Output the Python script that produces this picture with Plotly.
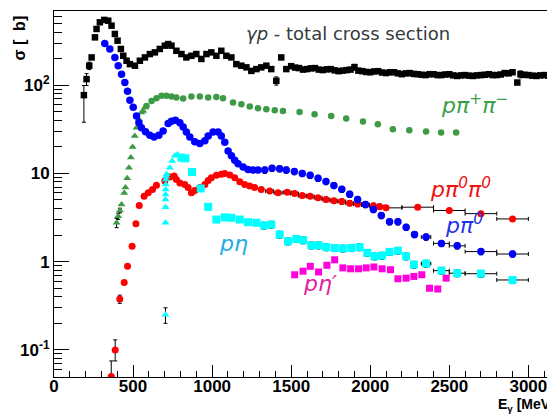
import plotly.graph_objects as go

# ---------------- data (E in MeV, sigma in microbarn) ----------------
tot_E = [189, 206, 223, 238, 259, 269, 290, 318, 343, 364, 385, 402, 423, 438, 459, 480,
         512, 543, 575, 606, 638, 669, 701, 722, 743, 774, 806, 837, 869, 900, 932, 964,
         995, 1027, 1058, 1090, 1122, 1153, 1185, 1217, 1248, 1280, 1311, 1343, 1374, 1406,
         1437, 1469, 1500, 1525, 1550, 1575, 1600, 1625, 1650, 1675, 1700, 1725, 1750, 1775,
         1800, 1825, 1850, 1875, 1900, 1925, 1950, 1975, 2000, 2025, 2050, 2075, 2100, 2125,
         2150, 2175, 2200, 2225, 2250, 2275, 2300, 2325, 2350, 2375, 2400, 2425, 2450, 2475,
         2500, 2525, 2550, 2575, 2600, 2625, 2650, 2675, 2700, 2725, 2750, 2775, 2800, 2825,
         2850, 2875, 2900, 2930, 2950, 2975, 3000, 3025, 3050, 3075, 3100, 3125, 3150, 3175, 3195]
tot_S = [77, 117, 166, 206, 348, 433, 515, 548, 537, 472, 380, 319, 257, 215, 189, 173,
         166, 189, 206, 225, 235, 257, 280, 292, 280, 245, 225, 206, 215, 225, 198, 225,
         235, 215, 245, 215, 206, 173, 166, 159, 145, 152, 159, 166, 152, 112,
         206, 152, 164, 158, 156, 150, 152, 155, 156, 150, 148, 151, 152, 147,
         144, 146, 148, 150, 160, 146, 144, 141, 140, 143, 144, 139, 137, 140,
         140, 136, 133, 136, 137, 134, 133, 131, 130, 133, 133, 130, 130, 132,
         133, 129, 127, 129, 130, 128, 127, 129, 130, 131, 133, 130, 130, 132,
         137, 136, 140, 107, 133, 131, 130, 128, 127, 129, 130, 128, 127, 127, 127]
tot_err_up = [22, 18, 16, 10] + [0] * 41 + [12] + [0] * 18 + [12] + [0] * 41 + [12] + [0] * 13
tot_err_dn = [39, 18, 16, 10] + [0] * 41 + [12] + [0] * 18 + [12] + [0] * 41 + [12] + [0] * 13

pi0_E = [321, 353, 385, 406, 427, 448, 465, 480, 501, 522, 537, 553, 579, 606, 633, 663,
         690, 722, 743, 768, 796, 817, 837, 859, 890, 922, 954, 975, 1006, 1038, 1058, 1080,
         1101, 1122, 1143, 1164, 1196, 1227, 1259, 1290, 1333, 1379, 1427, 1469, 1520, 1570,
         1620, 1670, 1720, 1770, 1820, 1870, 1920, 1970, 2020, 2070, 2122, 2175, 2227, 2280,
         2353, 2450, 2550, 2700, 2900]
pi0_S = [297, 257, 206, 166, 133, 107, 85, 67.5, 56, 44.8, 37.6, 33, 29.6, 27, 25.9, 27,
         30.3, 36.7, 39, 40, 37.6, 33.6, 29.5, 25.9, 22.9, 21.8, 23.5, 26.5, 29.5, 29.5, 26.5, 22.5,
         17.9, 15.8, 14.1, 12.9, 11.8, 11.1, 10.9, 10.9, 10.9, 11.4, 11.3, 10.9, 10.5, 10.0,
         9.5, 8.8, 8.1, 7.3, 6.6, 5.8, 5.07, 4.45, 3.9, 3.33, 2.83, 2.83, 2.45, 2.03,
         1.9, 1.61, 1.51, 1.30, 1.22]
pi0_xerr = [0] * 56 + [15, 15, 15, 15, 30, 50, 50, 100, 100]
pi0_yrel = [0] * 40 + [0.08] * 25

pipi_E = [396, 406, 417, 427, 444, 452, 463, 474, 486, 497, 511, 522, 537, 553, 564, 575,
          585, 617, 648, 680, 711, 743, 774, 817, 869, 922, 975, 1027, 1069, 1132, 1185,
          1238, 1290, 1343, 1396, 1448, 1553, 1648, 1753, 1848, 1954, 2048, 2143, 2247,
          2353, 2448, 2543]
pipi_S = [2.76, 3.27, 3.8, 4.45, 6.0, 6.9, 8.8, 11.6, 15.1, 19.9, 26.5, 33, 41, 49, 51, 55.7,
          58, 66, 71, 75.6, 75.6, 74.4, 72.5, 70.6, 74.4, 74.4, 72.5, 73.6, 71, 63.6, 60.9,
          57.3, 54.8, 53.4, 52, 51, 49.7, 46.8, 44.8, 41.9, 38.7, 36.1, 31.6, 30.9,
          29.8, 29.0, 29.0]
pipi_yrel = [0.12, 0.08, 0.06] + [0] * 44
PIPI_TRIANGLE_MAX_E = 580

pi00_E = [362, 387, 416, 444, 465, 494, 518, 539, 570, 596, 623, 648, 701, 733, 760, 774,
          796, 827, 848, 869, 890, 922, 954, 975, 995, 1027, 1058, 1080, 1112, 1143, 1175,
          1206, 1238, 1269, 1311, 1364, 1417, 1475, 1522, 1570, 1620, 1670, 1720, 1770,
          1820, 1870, 1920, 1970, 2020, 2060, 2100, 2300, 2500, 2700, 2900]
pi00_S = [0.05, 0.10, 0.377, 0.58, 0.885, 1.49, 2.69, 4.33, 5.52, 6.03, 6.58, 7.36, 8.18, 9.08,
          9.33, 8.5, 7.8, 7.5, 6.9, 6.03, 6.4, 6.9, 7.5, 8.3, 8.9, 9.5, 9.8, 10.0, 9.6, 8.9,
          8.05, 7.5, 7.2, 6.9, 6.58, 6.3, 6.03, 6.1, 5.9, 5.6, 5.5, 5.3, 5.07, 4.9,
          4.8, 4.6, 4.5, 4.4, 4.3, 4.2, 4.07, 4.14, 3.8, 3.5, 3.05]
pi00_err_up = [0.025, 0.03, 0.04] + [0] * 21 + [0.3] * 26 + [0.15] * 5
pi00_err_dn = [0.0, 0.025, 0.04] + [0] * 21 + [0.3] * 26 + [0.15] * 5
pi00_xerr = [0] * 35 + [25] * 15 + [100] * 5

eta_E = [705, 705, 705, 705, 706, 706, 707, 708, 709, 712, 733, 747, 764, 781, 806, 831,
         873, 928, 975, 1027, 1080, 1122, 1175, 1227, 1280, 1328, 1374, 1427, 1480, 1532,
         1575, 1627, 1673, 1722, 1775, 1827, 1880, 1932, 1981, 2027, 2074, 2122, 2175,
         2227, 2276, 2353, 2450, 2550, 2700, 2900]
eta_S = [0.25, 2.76, 4.14, 5.07, 5.76, 6.58, 7.5, 8.5, 9.2, 9.8, 11.6, 13.8, 15.8, 16.4, 15.1, 14.8,
         10.35, 6.75, 4.17, 3.0, 3.18, 3.14, 3.0, 2.8, 2.76, 2.57, 2.63, 2.03, 1.70, 1.81,
         1.75, 1.53, 1.53, 1.46, 1.43, 1.41, 1.43, 1.46, 1.26, 1.15, 1.17, 1.29, 1.33,
         1.15, 0.925, 0.95, 0.79, 0.74, 0.73, 0.62]
eta_xerr = [0] * 15 + [12, 12, 12, 12] + [0] * 26 + [30, 50, 50, 100, 100]
eta_yrel = [0.2] + [0] * 24 + [0.09] * 25
ETA_TRIANGLE_MAX_E = 790

etap_E = [1522, 1575, 1621, 1673, 1726, 1775, 1827, 1876, 1926, 1974, 2023, 2075, 2128,
          2175, 2227, 2276, 2326, 2375, 2427, 2480]
etap_S = [0.71, 0.78, 0.885, 0.764, 0.91, 1.05, 0.85, 0.83, 0.83, 0.85, 0.87, 0.83, 0.81,
          0.64, 0.65, 0.68, 0.71, 0.50, 0.49, 0.65]
etap_yrel = [0.04] * 20

x_ticks = [0, 500, 1000, 1500, 2000, 2500, 3000]
y_ticks = [0.1, 1, 10, 100]
y_tick_text = ["10<sup>-1</sup>", "1", "10", "10<sup>2</sup>"]

# ---------------- figure ----------------
W, H = 555, 415
L, R, T, B = 46, 3, 3, 46
PW, PH = W - L - R, H - T - B


def px(x):
    return (x - L) / PW


def py(y):
    return (H - B - y) / PH


def errbar(vals, minus=None, width=2):
    d = dict(type="data", array=vals, color="black", thickness=1, width=width, visible=True)
    if minus is not None:
        d["symmetric"] = False
        d["arrayminus"] = minus
    return d


fig = go.Figure()

fig.add_trace(go.Scatter(
    x=tot_E, y=tot_S, mode="markers",
    marker=dict(symbol="square", size=6.5, color="black"),
    error_y=errbar(tot_err_up, minus=tot_err_dn)))

pipi_tri = [i for i, e in enumerate(pipi_E) if e <= PIPI_TRIANGLE_MAX_E]
pipi_cir = [i for i, e in enumerate(pipi_E) if e > PIPI_TRIANGLE_MAX_E]
green = "#3d9a45"
fig.add_trace(go.Scatter(
    x=[pipi_E[i] for i in pipi_tri], y=[pipi_S[i] for i in pipi_tri], mode="markers",
    marker=dict(symbol="triangle-up", size=7, color=green),
    error_y=errbar([pipi_S[i] * pipi_yrel[i] for i in pipi_tri])))
fig.add_trace(go.Scatter(
    x=[pipi_E[i] for i in pipi_cir], y=[pipi_S[i] for i in pipi_cir], mode="markers",
    marker=dict(symbol="circle", size=6.5, color=green)))

fig.add_trace(go.Scatter(
    x=pi00_E, y=pi00_S, mode="markers",
    marker=dict(symbol="circle", size=7, color="#ff0000"),
    error_x=errbar(pi00_xerr),
    error_y=errbar(pi00_err_up, minus=pi00_err_dn)))

fig.add_trace(go.Scatter(
    x=pi0_E, y=pi0_S, mode="markers",
    marker=dict(symbol="circle", size=7.5, color="#0000ff"),
    error_x=errbar(pi0_xerr),
    error_y=errbar([s * r for s, r in zip(pi0_S, pi0_yrel)])))

eta_tri = [i for i, e in enumerate(eta_E) if e <= ETA_TRIANGLE_MAX_E]
eta_sq = [i for i, e in enumerate(eta_E) if e > ETA_TRIANGLE_MAX_E]
cyan = "#00ffff"
fig.add_trace(go.Scatter(
    x=[eta_E[i] for i in eta_tri], y=[eta_S[i] for i in eta_tri], mode="markers",
    marker=dict(symbol="triangle-up", size=7, color=cyan),
    error_y=errbar([eta_S[i] * eta_yrel[i] for i in eta_tri])))
fig.add_trace(go.Scatter(
    x=[eta_E[i] for i in eta_sq], y=[eta_S[i] for i in eta_sq], mode="markers",
    marker=dict(symbol="square", size=8, color=cyan),
    error_x=errbar([eta_xerr[i] for i in eta_sq]),
    error_y=errbar([eta_S[i] * eta_yrel[i] for i in eta_sq])))

fig.add_trace(go.Scatter(
    x=etap_E, y=etap_S, mode="markers",
    marker=dict(symbol="square", size=7, color="#ff00dd"),
    error_y=errbar([s * r for s, r in zip(etap_S, etap_yrel)])))

tickfont = dict(family="Liberation Sans, Arial, sans-serif", size=17, color="black", weight="bold")
minor_y = [v * m for v in (0.01, 0.1, 1, 10, 100) for m in range(2, 10)]

fig.update_xaxes(range=[0, 3200], tickvals=x_ticks, ticks="inside", ticklen=12, tickwidth=1,
                 tickcolor="black", showline=True, linecolor="black", linewidth=1, mirror=True,
                 showgrid=False, zeroline=False, tickfont=tickfont, ticklabelstandoff=-6,
                 minor=dict(ticks="inside", ticklen=6, dtick=100, tickcolor="black", showgrid=False))
fig.update_yaxes(type="log", range=[-1.307, 2.84], tickvals=y_ticks, ticktext=y_tick_text,
                 ticks="inside", ticklen=15, tickwidth=1, tickcolor="black", showline=True,
                 linecolor="black", linewidth=1, mirror=True, showgrid=False, zeroline=False,
                 tickfont=tickfont,
                 minor=dict(ticks="inside", ticklen=8, tickvals=minor_y, tickcolor="black",
                            showgrid=False))

lab = "DejaVu Sans, sans-serif"
annots = [
    dict(text="<i>γp</i> - total cross section", x=px(340), y=py(26), font=dict(family=lab, size=18, color="#333b3b")),
    dict(text="<i>pπ<sup>+</sup>π<sup>−</sup></i>", x=px(466), y=py(96), font=dict(family=lab, size=22, color="#3aa04a")),
    dict(text="<i>pπ<sup>0</sup>π<sup>0</sup></i>", x=px(452), y=py(180), font=dict(family=lab, size=22, color="#ee1111")),
    dict(text="<i>pπ<sup>0</sup></i>", x=px(456), y=py(216), font=dict(family=lab, size=22, color="#1f33e8")),
    dict(text="<i>pη</i>", x=px(225), y=py(235), font=dict(family=lab, size=22, color="#1aaee6")),
    dict(text="<i>pη′</i>", x=px(312), y=py(275), font=dict(family=lab, size=22, color="#e0229e")),
    dict(text="<b>E<sub>γ</sub> [MeV]</b>", x=px(549), y=py(397), xanchor="right",
         font=dict(family="Liberation Sans, Arial, sans-serif", size=14, color="black")),
    dict(text="<b>σ [\u00a0\u00a0b]</b>", x=px(11), y=py(6), textangle=-90, yanchor="top",
         font=dict(family="Liberation Sans, Arial, sans-serif", size=16, color="black")),
]
for a in annots:
    a.setdefault("xanchor", "center")
    a.setdefault("yanchor", "middle")
    fig.add_annotation(xref="paper", yref="paper", showarrow=False, **a)

fig.update_layout(width=W, height=H, margin=dict(l=L, r=R, t=T, b=B, pad=0),
                  paper_bgcolor="white", plot_bgcolor="white", showlegend=False)

fig.write_html("out.html")
